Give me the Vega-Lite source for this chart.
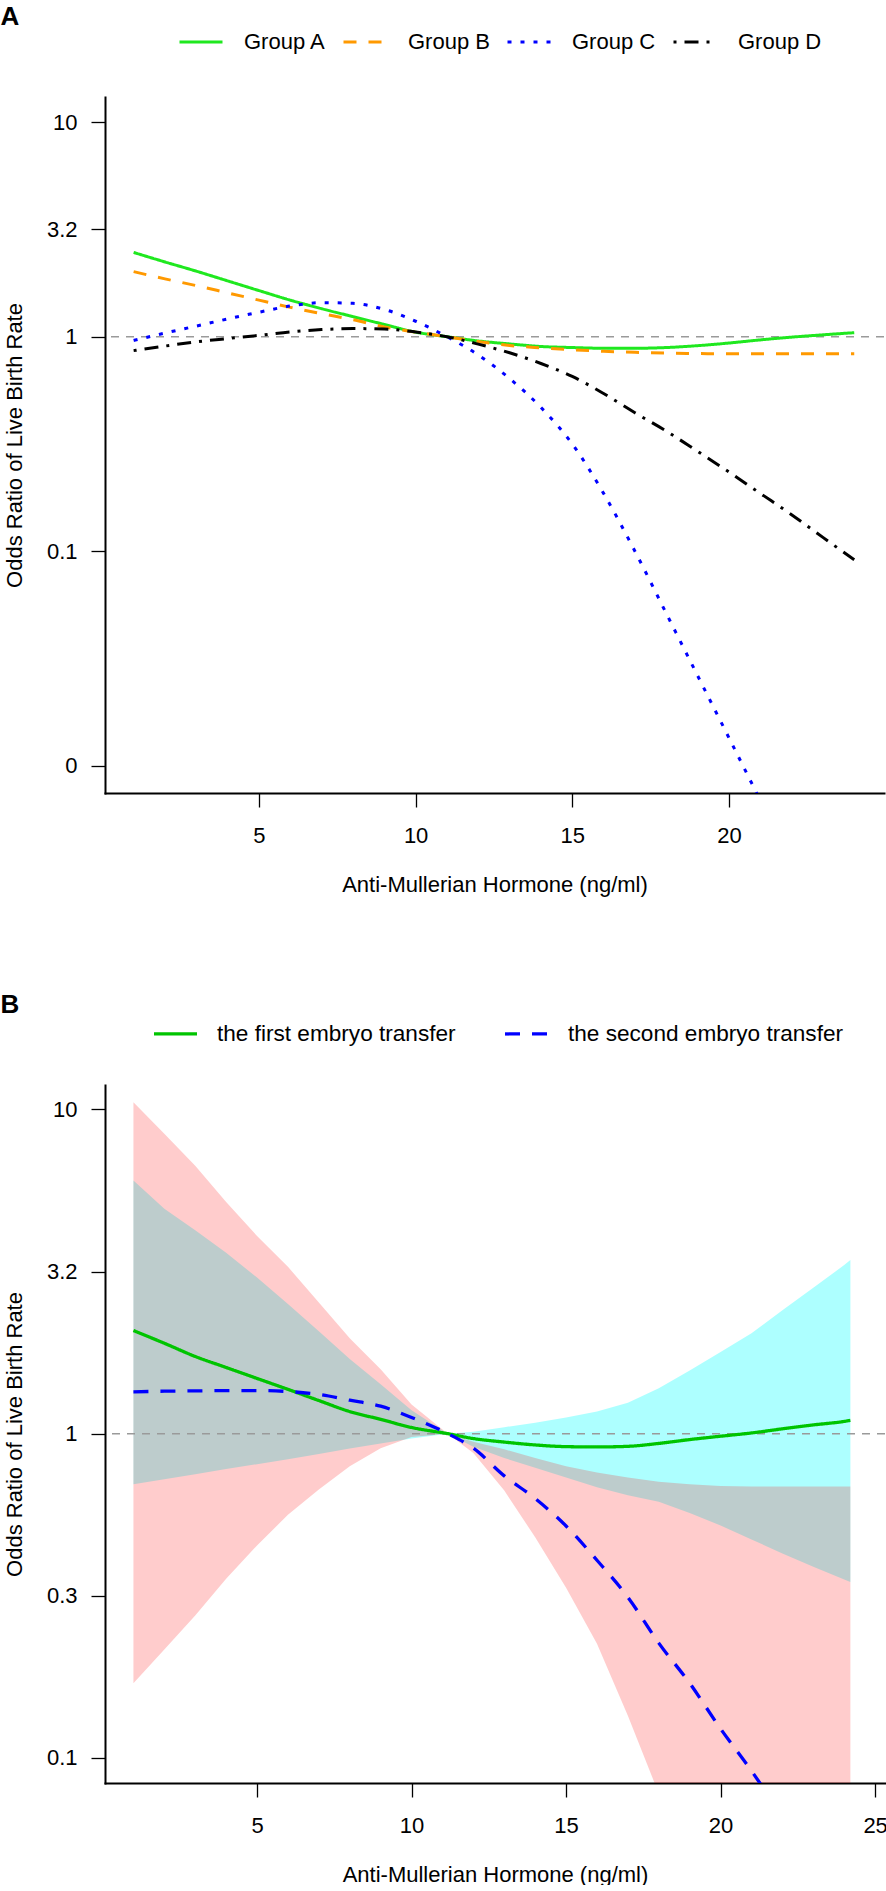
{
  "$schema": "https://vega.github.io/schema/vega-lite/v6.json",
  "background": "white",
  "padding": {"left": 0, "top": 4, "right": 0, "bottom": 0},
  "spacing": 97,
  "config": {
    "view": {"stroke": null},
    "font": "Liberation Sans",
    "axis": {
      "domainColor": "black", "domainWidth": 2, "domainCap": "square",
      "tickColor": "black", "tickWidth": 1.3, "tickSize": 14,
      "labelFont": "Liberation Sans", "labelFontSize": 22, "labelColor": "black",
      "titleFont": "Liberation Sans", "titleFontSize": 22, "titleFontWeight": "normal", "titleColor": "black",
      "grid": false, "labelOverlap": false, "labelFlush": false
    },
    "axisX": {"labelPadding": 18, "titlePadding": 28},
    "axisY": {"labelPadding": 14, "titlePadding": 20, "labelAngle": 0}
  },
  "resolve": {"scale": {"x": "independent", "y": "independent", "color": "independent", "strokeDash": "independent"}, "legend": {"color": "independent", "strokeDash": "independent"}},
  "vconcat": [
    {
      "title": {"text": "A", "anchor": "start", "frame": "bounds", "fontSize": 26, "fontWeight": "bold", "font": "Liberation Sans", "color": "black", "offset": -11, "dx": -3},
      "width": 779,
      "height": 696,
      "layer": [
        {
          "data": {"values": [{"ref": 1}]},
          "mark": {"type": "rule", "color": "#9a9a9a", "strokeDash": [8, 7], "strokeWidth": 1.5},
          "encoding": {
            "y": {"field": "ref", "type": "quantitative", "title": "Odds Ratio of Live Birth Rate",
              "scale": {"type": "log", "domain": [0.00746, 13.1], "nice": false},
              "axis": {"values": [0.01, 0.1, 1, 3.1623, 10], "format": ".1~f"}}
          }
        },
        {
          "data": {"values": [
            {"amh": 1, "or": 2.47, "group": "Group A"}, {"amh": 2, "or": 2.23, "group": "Group A"}, {"amh": 3, "or": 2.02, "group": "Group A"}, {"amh": 4, "or": 1.82, "group": "Group A"}, {"amh": 5, "or": 1.64, "group": "Group A"}, {"amh": 6, "or": 1.48, "group": "Group A"}, {"amh": 7, "or": 1.35, "group": "Group A"}, {"amh": 8, "or": 1.24, "group": "Group A"}, {"amh": 9, "or": 1.14, "group": "Group A"}, {"amh": 10, "or": 1.05, "group": "Group A"}, {"amh": 11, "or": 1.0, "group": "Group A"}, {"amh": 12, "or": 0.955, "group": "Group A"}, {"amh": 13, "or": 0.925, "group": "Group A"}, {"amh": 14, "or": 0.9, "group": "Group A"}, {"amh": 15, "or": 0.89, "group": "Group A"}, {"amh": 16, "or": 0.883, "group": "Group A"}, {"amh": 17, "or": 0.883, "group": "Group A"}, {"amh": 18, "or": 0.89, "group": "Group A"}, {"amh": 19, "or": 0.908, "group": "Group A"}, {"amh": 20, "or": 0.934, "group": "Group A"}, {"amh": 21, "or": 0.966, "group": "Group A"}, {"amh": 22, "or": 0.995, "group": "Group A"}, {"amh": 23, "or": 1.02, "group": "Group A"}, {"amh": 24, "or": 1.044, "group": "Group A"},
            {"amh": 1, "or": 2.01, "group": "Group B"}, {"amh": 2, "or": 1.86, "group": "Group B"}, {"amh": 3, "or": 1.73, "group": "Group B"}, {"amh": 4, "or": 1.6, "group": "Group B"}, {"amh": 5, "or": 1.48, "group": "Group B"}, {"amh": 6, "or": 1.37, "group": "Group B"}, {"amh": 7, "or": 1.28, "group": "Group B"}, {"amh": 8, "or": 1.2, "group": "Group B"}, {"amh": 9, "or": 1.11, "group": "Group B"}, {"amh": 10, "or": 1.05, "group": "Group B"}, {"amh": 11, "or": 1.0, "group": "Group B"}, {"amh": 12, "or": 0.95, "group": "Group B"}, {"amh": 13, "or": 0.91, "group": "Group B"}, {"amh": 14, "or": 0.887, "group": "Group B"}, {"amh": 15, "or": 0.869, "group": "Group B"}, {"amh": 16, "or": 0.855, "group": "Group B"}, {"amh": 17, "or": 0.845, "group": "Group B"}, {"amh": 18, "or": 0.838, "group": "Group B"}, {"amh": 19, "or": 0.834, "group": "Group B"}, {"amh": 20, "or": 0.832, "group": "Group B"}, {"amh": 21, "or": 0.832, "group": "Group B"}, {"amh": 22, "or": 0.832, "group": "Group B"}, {"amh": 23, "or": 0.832, "group": "Group B"}, {"amh": 24, "or": 0.832, "group": "Group B"},
            {"amh": 1, "or": 0.96, "group": "Group C"}, {"amh": 2, "or": 1.04, "group": "Group C"}, {"amh": 3, "or": 1.12, "group": "Group C"}, {"amh": 4, "or": 1.21, "group": "Group C"}, {"amh": 5, "or": 1.3, "group": "Group C"}, {"amh": 6, "or": 1.39, "group": "Group C"}, {"amh": 7, "or": 1.44, "group": "Group C"}, {"amh": 8, "or": 1.43, "group": "Group C"}, {"amh": 9, "or": 1.34, "group": "Group C"}, {"amh": 10, "or": 1.18, "group": "Group C"}, {"amh": 11, "or": 1.0, "group": "Group C"}, {"amh": 12, "or": 0.822, "group": "Group C"}, {"amh": 13, "or": 0.638, "group": "Group C"}, {"amh": 14, "or": 0.468, "group": "Group C"}, {"amh": 15, "or": 0.316, "group": "Group C"}, {"amh": 16, "or": 0.186, "group": "Group C"}, {"amh": 17, "or": 0.1, "group": "Group C"}, {"amh": 18, "or": 0.0513, "group": "Group C"}, {"amh": 19, "or": 0.0263, "group": "Group C"}, {"amh": 20, "or": 0.0135, "group": "Group C"}, {"amh": 21, "or": 0.0069, "group": "Group C"},
            {"amh": 1, "or": 0.861, "group": "Group D"}, {"amh": 2, "or": 0.904, "group": "Group D"}, {"amh": 3, "or": 0.946, "group": "Group D"}, {"amh": 4, "or": 0.98, "group": "Group D"}, {"amh": 5, "or": 1.014, "group": "Group D"}, {"amh": 6, "or": 1.052, "group": "Group D"}, {"amh": 7, "or": 1.079, "group": "Group D"}, {"amh": 8, "or": 1.091, "group": "Group D"}, {"amh": 9, "or": 1.086, "group": "Group D"}, {"amh": 10, "or": 1.052, "group": "Group D"}, {"amh": 11, "or": 1.0, "group": "Group D"}, {"amh": 12, "or": 0.923, "group": "Group D"}, {"amh": 13, "or": 0.841, "group": "Group D"}, {"amh": 14, "or": 0.75, "group": "Group D"}, {"amh": 15, "or": 0.653, "group": "Group D"}, {"amh": 16, "or": 0.543, "group": "Group D"}, {"amh": 17, "or": 0.442, "group": "Group D"}, {"amh": 18, "or": 0.363, "group": "Group D"}, {"amh": 19, "or": 0.292, "group": "Group D"}, {"amh": 20, "or": 0.234, "group": "Group D"}, {"amh": 21, "or": 0.186, "group": "Group D"}, {"amh": 22, "or": 0.148, "group": "Group D"}, {"amh": 23, "or": 0.116, "group": "Group D"}, {"amh": 24, "or": 0.0912, "group": "Group D"}
          ]},
          "mark": {"type": "line", "strokeWidth": 3, "clip": true, "interpolate": "monotone"},
          "encoding": {
            "x": {"field": "amh", "type": "quantitative", "title": "Anti-Mullerian Hormone (ng/ml)",
              "scale": {"domain": [0.086, 24.95], "nice": false, "zero": false},
              "axis": {"values": [5, 10, 15, 20]}},
            "y": {"field": "or", "type": "quantitative", "title": "Odds Ratio of Live Birth Rate",
              "scale": {"type": "log", "domain": [0.00746, 13.1], "nice": false},
              "axis": {"values": [0.01, 0.1, 1, 3.1623, 10], "format": ".1~f"}},
            "color": {"field": "group", "type": "nominal",
              "scale": {"domain": ["Group A", "Group B", "Group C", "Group D"], "range": ["#1FE81F", "#FF9900", "#0000FF", "#000000"]},
              "legend": {"orient": "none", "legendX": 73, "legendY": -78, "direction": "horizontal", "columns": 4, "title": null,
                "symbolType": "stroke", "symbolSize": 1849, "symbolStrokeWidth": 3, "labelFontSize": 22, "labelFont": "Liberation Sans",
                "labelColor": "black", "labelOffset": 20, "columnPadding": 11, "padding": 0, "labelLimit": 400}},
            "strokeDash": {"field": "group", "type": "nominal",
              "scale": {"domain": ["Group A", "Group B", "Group C", "Group D"], "range": [[1, 0], [13, 12], [4, 9], [3, 8, 14, 8]]},
              "legend": {"orient": "none", "legendX": 73, "legendY": -78, "direction": "horizontal", "columns": 4, "title": null,
                "symbolType": "stroke", "symbolSize": 1849, "symbolStrokeWidth": 3, "labelFontSize": 22, "labelFont": "Liberation Sans",
                "labelColor": "black", "labelOffset": 20, "columnPadding": 11, "padding": 0, "labelLimit": 400}}
          }
        }
      ]
    },
    {
      "title": {"text": "B", "anchor": "start", "frame": "bounds", "fontSize": 26, "fontWeight": "bold", "font": "Liberation Sans", "color": "black", "offset": -8, "dx": -3},
      "width": 780,
      "height": 698,
      "data": {"values": [
        {"amh": 1, "series": "the first embryo transfer", "or": 2.08, "lo": 0.698, "hi": 6.03},
        {"amh": 2, "series": "the first embryo transfer", "or": 1.9, "lo": 0.723, "hi": 4.94},
        {"amh": 3, "series": "the first embryo transfer", "or": 1.73, "lo": 0.75, "hi": 4.24},
        {"amh": 4, "series": "the first embryo transfer", "or": 1.6, "lo": 0.778, "hi": 3.61},
        {"amh": 5, "series": "the first embryo transfer", "or": 1.48, "lo": 0.805, "hi": 3.03},
        {"amh": 6, "series": "the first embryo transfer", "or": 1.37, "lo": 0.834, "hi": 2.51},
        {"amh": 7, "series": "the first embryo transfer", "or": 1.265, "lo": 0.865, "hi": 2.07},
        {"amh": 8, "series": "the first embryo transfer", "or": 1.17, "lo": 0.9, "hi": 1.7},
        {"amh": 9, "series": "the first embryo transfer", "or": 1.107, "lo": 0.933, "hi": 1.42},
        {"amh": 10, "series": "the first embryo transfer", "or": 1.045, "lo": 0.966, "hi": 1.18},
        {"amh": 11.17, "series": "the first embryo transfer", "or": 1.0, "lo": 1.0, "hi": 1.0},
        {"amh": 12, "series": "the first embryo transfer", "or": 0.966, "lo": 0.912, "hi": 1.014},
        {"amh": 13, "series": "the first embryo transfer", "or": 0.942, "lo": 0.841, "hi": 1.047},
        {"amh": 14, "series": "the first embryo transfer", "or": 0.923, "lo": 0.785, "hi": 1.081},
        {"amh": 15, "series": "the first embryo transfer", "or": 0.912, "lo": 0.733, "hi": 1.122},
        {"amh": 16, "series": "the first embryo transfer", "or": 0.91, "lo": 0.684, "hi": 1.17},
        {"amh": 17, "series": "the first embryo transfer", "or": 0.914, "lo": 0.646, "hi": 1.245},
        {"amh": 18, "series": "the first embryo transfer", "or": 0.933, "lo": 0.617, "hi": 1.38},
        {"amh": 19, "series": "the first embryo transfer", "or": 0.959, "lo": 0.569, "hi": 1.567},
        {"amh": 20, "series": "the first embryo transfer", "or": 0.982, "lo": 0.521, "hi": 1.786},
        {"amh": 21, "series": "the first embryo transfer", "or": 1.005, "lo": 0.472, "hi": 2.04},
        {"amh": 22, "series": "the first embryo transfer", "or": 1.035, "lo": 0.427, "hi": 2.4},
        {"amh": 23, "series": "the first embryo transfer", "or": 1.064, "lo": 0.389, "hi": 2.82},
        {"amh": 24, "series": "the first embryo transfer", "or": 1.091, "lo": 0.355, "hi": 3.31},
        {"amh": 24.2, "series": "the first embryo transfer", "or": 1.099, "lo": 0.349, "hi": 3.43},
        {"amh": 1, "series": "the second embryo transfer", "or": 1.346, "lo": 0.17, "hi": 10.52},
        {"amh": 2, "series": "the second embryo transfer", "or": 1.352, "lo": 0.216, "hi": 8.41},
        {"amh": 3, "series": "the second embryo transfer", "or": 1.355, "lo": 0.275, "hi": 6.7},
        {"amh": 4, "series": "the second embryo transfer", "or": 1.358, "lo": 0.357, "hi": 5.18},
        {"amh": 5, "series": "the second embryo transfer", "or": 1.358, "lo": 0.452, "hi": 4.07},
        {"amh": 6, "series": "the second embryo transfer", "or": 1.349, "lo": 0.562, "hi": 3.27},
        {"amh": 7, "series": "the second embryo transfer", "or": 1.321, "lo": 0.673, "hi": 2.54},
        {"amh": 8, "series": "the second embryo transfer", "or": 1.268, "lo": 0.794, "hi": 1.97},
        {"amh": 9, "series": "the second embryo transfer", "or": 1.216, "lo": 0.902, "hi": 1.58},
        {"amh": 10, "series": "the second embryo transfer", "or": 1.122, "lo": 0.977, "hi": 1.23},
        {"amh": 11.17, "series": "the second embryo transfer", "or": 1.0, "lo": 1.0, "hi": 1.0},
        {"amh": 12, "series": "the second embryo transfer", "or": 0.902, "lo": 0.871, "hi": 0.944},
        {"amh": 13, "series": "the second embryo transfer", "or": 0.741, "lo": 0.668, "hi": 0.895},
        {"amh": 14, "series": "the second embryo transfer", "or": 0.631, "lo": 0.479, "hi": 0.841},
        {"amh": 15, "series": "the second embryo transfer", "or": 0.519, "lo": 0.335, "hi": 0.794},
        {"amh": 16, "series": "the second embryo transfer", "or": 0.407, "lo": 0.225, "hi": 0.759},
        {"amh": 17, "series": "the second embryo transfer", "or": 0.313, "lo": 0.135, "hi": 0.733},
        {"amh": 18, "series": "the second embryo transfer", "or": 0.226, "lo": 0.0776, "hi": 0.711},
        {"amh": 19, "series": "the second embryo transfer", "or": 0.17, "lo": 0.0417, "hi": 0.698},
        {"amh": 20, "series": "the second embryo transfer", "or": 0.123, "lo": 0.0224, "hi": 0.69},
        {"amh": 21, "series": "the second embryo transfer", "or": 0.0912, "lo": 0.0112, "hi": 0.687},
        {"amh": 22, "series": "the second embryo transfer", "or": 0.066, "lo": 0.0056, "hi": 0.687},
        {"amh": 23, "series": "the second embryo transfer", "or": 0.048, "lo": 0.0028, "hi": 0.687},
        {"amh": 24, "series": "the second embryo transfer", "or": 0.035, "lo": 0.0014, "hi": 0.687},
        {"amh": 24.2, "series": "the second embryo transfer", "or": 0.033, "lo": 0.0012, "hi": 0.687}
      ]},
      "encoding": {
        "x": {"field": "amh", "type": "quantitative", "title": "Anti-Mullerian Hormone (ng/ml)",
          "scale": {"domain": [0.08, 25.32], "nice": false, "zero": false},
          "axis": {"values": [5, 10, 15, 20, 25]}}
      },
      "layer": [
        {
          "transform": [{"filter": "datum.series === 'the first embryo transfer'"}],
          "mark": {"type": "area", "color": "#00FFFF", "opacity": 0.32, "clip": true},
          "encoding": {
            "y": {"field": "lo", "type": "quantitative", "title": "Odds Ratio of Live Birth Rate",
              "scale": {"type": "log", "domain": [0.0837, 11.89], "nice": false},
              "axis": {"values": [0.1, 0.31623, 1, 3.1623, 10], "format": ".1~f"}},
            "y2": {"field": "hi"}
          }
        },
        {
          "transform": [{"filter": "datum.series === 'the second embryo transfer'"}],
          "mark": {"type": "area", "color": "#FF0000", "opacity": 0.2, "clip": true},
          "encoding": {
            "y": {"field": "lo", "type": "quantitative", "title": "Odds Ratio of Live Birth Rate",
              "scale": {"type": "log", "domain": [0.0837, 11.89], "nice": false},
              "axis": {"values": [0.1, 0.31623, 1, 3.1623, 10], "format": ".1~f"}},
            "y2": {"field": "hi"}
          }
        },
        {
          "data": {"values": [{"ref": 1}]},
          "mark": {"type": "rule", "color": "#9a9a9a", "strokeDash": [8, 7], "strokeWidth": 1.5},
          "encoding": {
            "x": null,
            "y": {"field": "ref", "type": "quantitative", "title": "Odds Ratio of Live Birth Rate",
              "scale": {"type": "log", "domain": [0.0837, 11.89], "nice": false},
              "axis": {"values": [0.1, 0.31623, 1, 3.1623, 10], "format": ".1~f"}}
          }
        },
        {
          "mark": {"type": "line", "strokeWidth": 3.3, "clip": true, "interpolate": "monotone"},
          "encoding": {
            "y": {"field": "or", "type": "quantitative", "title": "Odds Ratio of Live Birth Rate",
              "scale": {"type": "log", "domain": [0.0837, 11.89], "nice": false},
              "axis": {"values": [0.1, 0.31623, 1, 3.1623, 10], "format": ".1~f"}},
            "color": {"field": "series", "type": "nominal",
              "scale": {"domain": ["the first embryo transfer", "the second embryo transfer"], "range": ["#00C400", "#0000FF"]},
              "legend": {"orient": "none", "legendX": 47, "legendY": -75, "direction": "horizontal", "columns": 2, "title": null,
                "symbolType": "stroke", "symbolSize": 1849, "symbolStrokeWidth": 3.3, "labelFontSize": 22.6, "labelFont": "Liberation Sans",
                "labelColor": "black", "labelOffset": 18, "columnPadding": 42, "padding": 0, "labelLimit": 400}},
            "strokeDash": {"field": "series", "type": "nominal",
              "scale": {"domain": ["the first embryo transfer", "the second embryo transfer"], "range": [[1, 0], [15, 12]]},
              "legend": {"orient": "none", "legendX": 47, "legendY": -75, "direction": "horizontal", "columns": 2, "title": null,
                "symbolType": "stroke", "symbolSize": 1849, "symbolStrokeWidth": 3.3, "labelFontSize": 22.6, "labelFont": "Liberation Sans",
                "labelColor": "black", "labelOffset": 18, "columnPadding": 42, "padding": 0, "labelLimit": 400}}
          }
        }
      ]
    }
  ]
}
